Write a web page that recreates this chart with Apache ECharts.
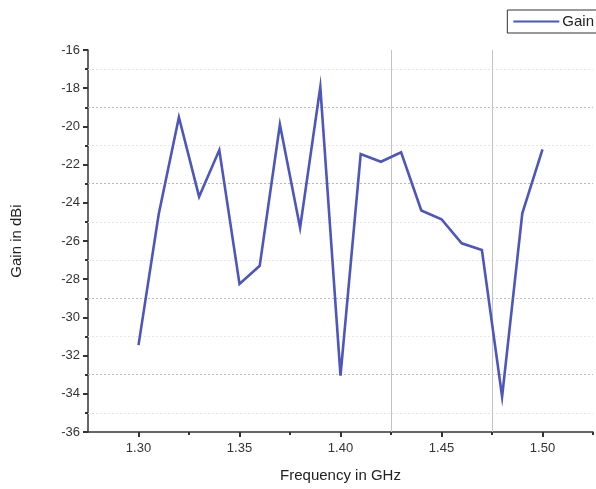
<!DOCTYPE html>
<html>
<head>
<meta charset="utf-8">
<script src="https://cdn.jsdelivr.net/npm/echarts@6/dist/echarts.min.js"></script>
<style>
  html, body { margin: 0; padding: 0; background: #ffffff; }
  #chart { width: 596px; height: 489px; }
</style>
</head>
<body>
<div id="chart"></div>
<script>
// Measured gain across the band
const frequencies = [1.30, 1.31, 1.32, 1.33, 1.34, 1.35, 1.36, 1.37, 1.38, 1.39, 1.40,
                     1.41, 1.42, 1.43, 1.44, 1.45, 1.46, 1.47, 1.48, 1.49, 1.50];
const gainValues = [-31.45, -24.6, -19.52, -23.68, -21.24, -28.25, -27.3, -19.9, -25.3, -17.94, -33.05,
                    -21.45, -21.85, -21.36, -24.4, -24.86, -26.12, -26.47, -34.15, -24.55, -21.2];
const seriesName = 'Gain';
const xTitle = 'Frequency in GHz';
const yTitle = 'Gain in dBi';
// Frequency tick positions
const xMajorTicks = [1.30, 1.35, 1.40, 1.45, 1.50];
const xMinorTicks = [1.325, 1.375, 1.425, 1.475, 1.525];
// Reference lines drawn across the plot
const darkRows = [-19, -23, -29, -33];
const lightRows = [-17, -21, -25, -27, -31, -35];
const guideCols = [1.425, 1.475];

const chart = echarts.init(document.getElementById('chart'), null, { renderer: 'canvas' });

const points = frequencies.map((f, i) => [f, gainValues[i]]);
const font = 'Liberation Sans, Arial, sans-serif';
const xMin = 1.275, xMax = 1.525;
const yMin = -36, yMax = -16;

const rowLine = (v, color, width) => [
  { coord: [xMin, v], lineStyle: { color: color, type: [2, 2], width: width } },
  { coord: [xMax, v] }
];
const colLine = v => [
  { coord: [v, yMin], lineStyle: { color: '#c2c2c2', type: 'solid', width: 1 } },
  { coord: [v, yMax] }
];

chart.setOption({
  animation: false,
  backgroundColor: '#ffffff',
  grid: { left: 88, right: 3, top: 50, bottom: 57 },
  legend: {
    right: -6, top: 10,
    itemWidth: 46, itemHeight: 10, itemGap: 0,
    padding: [4, 8, 4, 6],
    borderColor: '#333', borderWidth: 1,
    backgroundColor: '#fff',
    textStyle: { fontFamily: font, fontSize: 15, color: '#222', padding: [0, 0, 0, -2] },
    data: [{ name: seriesName, icon: 'path://M0,4 L46,4 L46,6 L0,6 Z' }]
  },
  xAxis: [
    {
      type: 'value',
      min: xMin, max: xMax,
      name: xTitle, nameLocation: 'middle', nameGap: 36,
      nameTextStyle: { fontFamily: font, fontSize: 15, color: '#222' },
      axisLine: { onZero: false, lineStyle: { color: '#333', width: 1.5 } },
      axisTick: { show: true, length: 5, customValues: xMajorTicks, lineStyle: { color: '#333', width: 2 } },
      axisLabel: {
        fontFamily: font, fontSize: 13, color: '#333', margin: 10,
        customValues: xMajorTicks,
        formatter: v => v.toFixed(2)
      },
      splitLine: { show: false }
    },
    {
      type: 'value',
      position: 'bottom',
      min: xMin, max: xMax,
      axisLine: { show: false, onZero: false },
      axisTick: { show: true, length: 3, customValues: xMinorTicks, lineStyle: { color: '#333', width: 2 } },
      axisLabel: { show: false },
      splitLine: { show: false }
    }
  ],
  yAxis: {
    type: 'value',
    min: yMin, max: yMax, interval: 2,
    name: yTitle, nameLocation: 'middle', nameGap: 64,
    nameTextStyle: { fontFamily: font, fontSize: 15, color: '#222' },
    axisLine: { show: true, lineStyle: { color: '#333', width: 1.5 } },
    axisTick: { show: true, length: 5, lineStyle: { color: '#333', width: 2 } },
    minorTick: { show: true, splitNumber: 2, length: 3, lineStyle: { color: '#333', width: 2 } },
    axisLabel: { fontFamily: font, fontSize: 13, color: '#333', margin: 8 },
    splitLine: { show: false }
  },
  series: [
    {
      name: seriesName,
      type: 'line',
      xAxisIndex: 0,
      data: points,
      showSymbol: false,
      symbol: 'none',
      lineStyle: { color: '#4d56bb', width: 2.6, join: 'miter' },
      itemStyle: { color: '#4d56bb' },
      z: 5,
      markLine: {
        silent: true, symbol: 'none', label: { show: false },
        animation: false,
        data: [
          ...darkRows.map(v => rowLine(v, '#b9b9b9', 1.2)),
          ...lightRows.map(v => rowLine(v, '#e6e6e6', 1)),
          ...guideCols.map(colLine)
        ]
      }
    }
  ]
});
</script>
</body>
</html>
